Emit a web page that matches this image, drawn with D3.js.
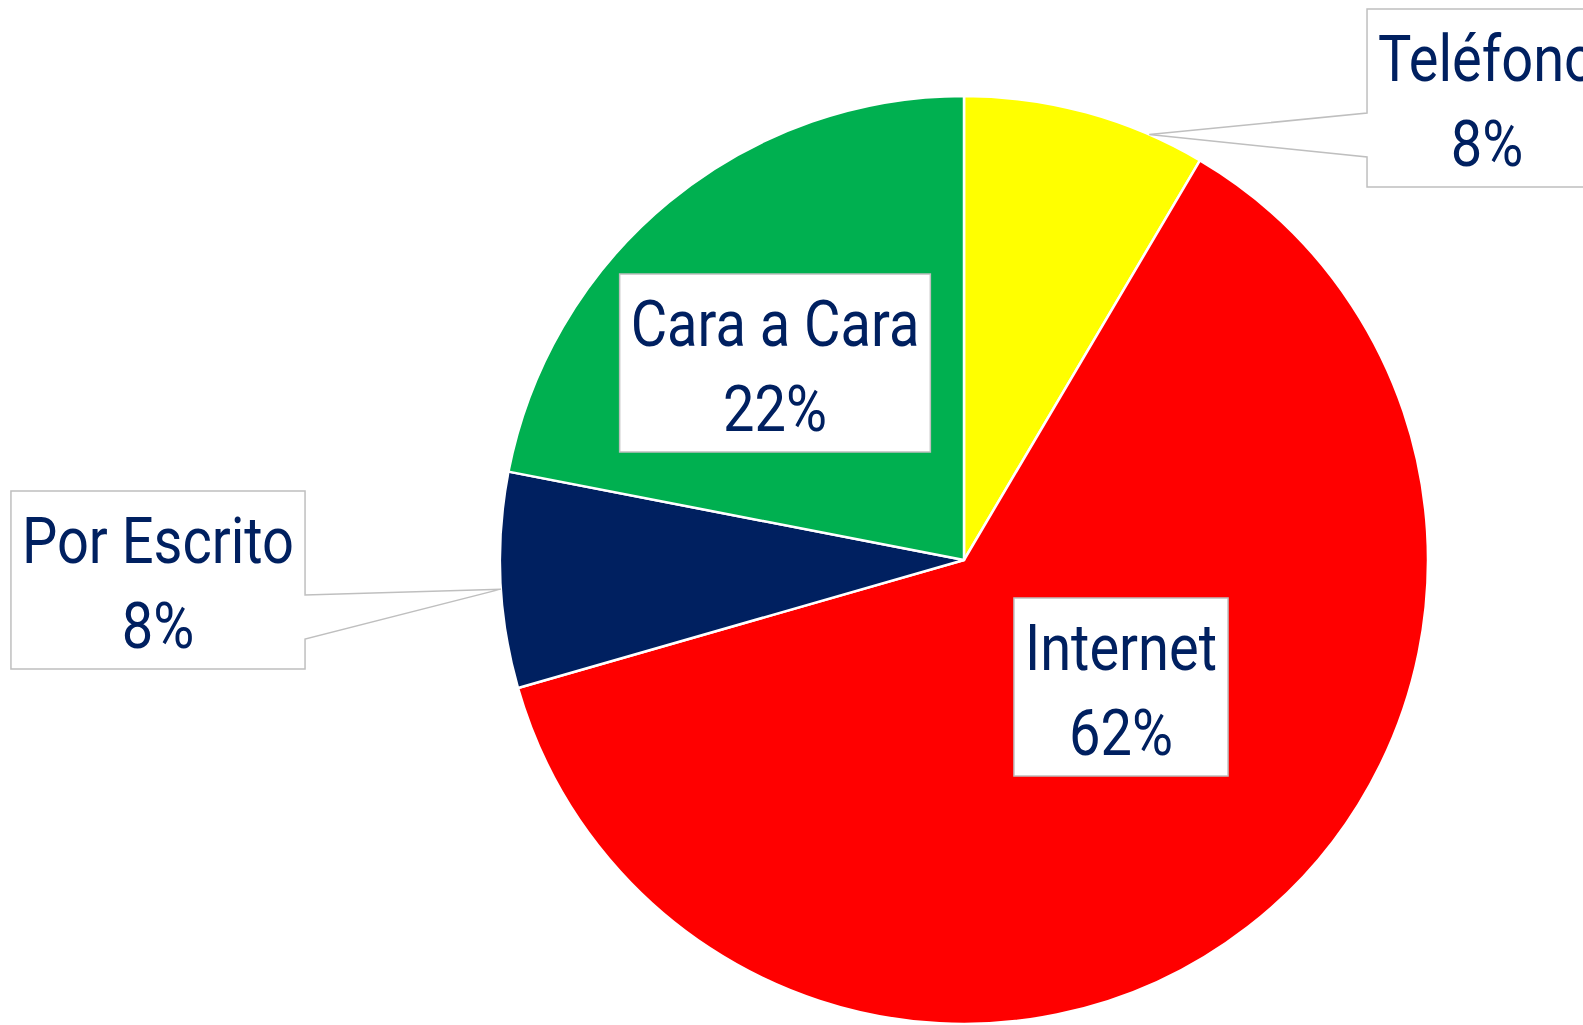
<!DOCTYPE html>
<html lang="es">
    <head>
        <meta charset="utf-8" />
        <title>Canales de contacto</title>
        <script src="https://cdnjs.cloudflare.com/ajax/libs/d3/7.8.5/d3.min.js"></script>
        <style>
            body { margin: 0; background: #fff; }
            svg { display: block; }
        </style>
    </head>
    <body>
        <div class="graph"></div>
        <script>
    // data (clockwise from 12 o'clock)
    const categories = ["Teléfono", "Internet", "Por Escrito", "Cara a Cara"];
    const values = [8.49, 62.06, 7.5, 21.95];
    const colors = ["#FFFF00", "#FF0000", "#002060", "#00B050"];
    // label box centres, relative to the pie centre (manual placement like the original)
    const labelOffsets = [[523, -462], [157, 127], [-806, 20], [-189, -197]];
    // where along the slice the callout pointer touches (null = label sits inside)
    const calloutAt = [0.77, null, 0.46, null];

    const w = 1583;
    const h = 1025;
    const cx = 964, cy = 560, radius = 464;
    const fontSize = 64;
    const squeeze = 0.875;   // condensed look
    const boxH = 178;
    const textColor = "#002060";

    const svg = d3.select(".graph")
                  .append("svg")
                  .attr("width", w)
                  .attr("height", h);

    const pie = d3.pie().sort(null).value(d => d);
    const arcs = pie(values);
    const arc = d3.arc().innerRadius(0).outerRadius(radius);

    const g = svg.append("g").attr("transform", "translate(" + cx + "," + cy + ")");

    g.selectAll("path.slice")
     .data(arcs)
     .enter()
     .append("path")
     .attr("class", "slice")
     .attr("d", arc)
     .attr("fill", (d, i) => colors[i])
     .attr("stroke", "#fff")
     .attr("stroke-width", 2.5)
     .attr("stroke-linejoin", "round");

    //labels
    const labels = g.selectAll("g.label")
                    .data(arcs)
                    .enter()
                    .append("g")
                    .attr("class", "label");

    labels.each(function (d, i) {
        const lg = d3.select(this);
        const bx = labelOffsets[i][0], by = labelOffsets[i][1];
        const pct = Math.round(d.value / d3.sum(values) * 100) + "%";

        const shape = lg.append("path")
                        .attr("fill", "#fff")
                        .attr("stroke", "#bfbfbf")
                        .attr("stroke-width", 1.5);

        const t1 = lg.append("text").text(categories[i]);
        const t2 = lg.append("text").text(pct);
        const top = by - boxH / 2;
        [t1, t2].forEach((t, k) => {
            t.attr("text-anchor", "middle")
             .attr("font-family", "Roboto, 'Noto Sans', sans-serif")
             .attr("font-size", fontSize)
             .attr("fill", textColor)
             .attr("transform", "translate(" + bx + "," + (top + (k === 0 ? 72 : 157)) + ") scale(" + squeeze + ",1)");
        });

        const tw = Math.max(t1.node().getComputedTextLength(), t2.node().getComputedTextLength()) * squeeze;
        const bw = tw + 22;
        const left = bx - bw / 2, right = bx + bw / 2, bottom = top + boxH;

        if (calloutAt[i] === null) {
            shape.attr("d", "M" + left + "," + top + "H" + right + "V" + bottom + "H" + left + "Z");
            return;
        }
        // callout pointer touching the slice edge
        const a = d.startAngle + (d.endAngle - d.startAngle) * calloutAt[i];
        const tx = Math.sin(a) * radius, ty = -Math.cos(a) * radius;
        const p1 = top + 104, p2 = top + 148;
        let p;
        if (tx < left) {
            p = "M" + left + "," + top + "H" + right + "V" + bottom + "H" + left +
                "V" + p2 + "L" + tx + "," + ty + "L" + left + "," + p1 + "Z";
        } else {
            p = "M" + left + "," + top + "H" + right + "V" + p1 + "L" + tx + "," + ty +
                "L" + right + "," + p2 + "V" + bottom + "H" + left + "Z";
        }
        shape.attr("d", p);
    });
        </script>
    </body>
</html>
